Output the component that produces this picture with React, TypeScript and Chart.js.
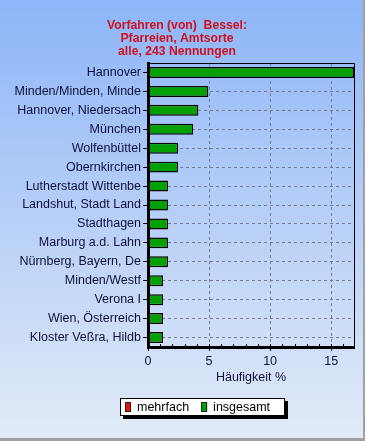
import React, { useEffect, useRef } from 'react';
import { Chart, registerables } from 'chart.js';

Chart.register(...registerables);

const titleLines = ['Vorfahren (von)  Bessel:', 'Pfarreien, Amtsorte', 'alle, 243 Nennungen'];
const categories = [
  'Hannover',
  'Minden/Minden, Minde',
  'Hannover, Niedersach',
  'München',
  'Wolfenbüttel',
  'Obernkirchen',
  'Lutherstadt Wittenbe',
  'Landshut, Stadt Land',
  'Stadthagen',
  'Marburg a.d. Lahn',
  'Nürnberg, Bayern, De',
  'Minden/Westf',
  'Verona I',
  'Wien, Österreich',
  'Kloster Veßra, Hildb',
];
const insgesamtValues = [16.87, 4.94, 4.12, 3.7, 2.47, 2.47, 1.65, 1.65, 1.65, 1.65, 1.65, 1.23, 1.23, 1.23, 1.23];
const mehrfachValues = [0, 0, 0, 0, 0, 0, 0, 0, 0, 0, 0, 0, 0, 0, 0];
const xTickStep = 5;
const xAxisTitle = 'Häufigkeit %';

const FONT = '"Liberation Sans", Arial, sans-serif';
const TEXT = '#10103a';

const bgPlugin = {
  id: 'bg',
  beforeDraw(chart: any) {
    const { ctx, width, height } = chart;
    ctx.save();
    const g = ctx.createLinearGradient(0, 0, 0, height);
    g.addColorStop(0, '#8db5f8');
    g.addColorStop(1, '#e2ebf7');
    ctx.fillStyle = g;
    ctx.fillRect(0, 0, width, height);
    ctx.fillStyle = '#a0a0a0';
    ctx.fillRect(width - 2, 0, 2, height);
    ctx.fillRect(0, height - 3, width, 3);
    ctx.restore();
  },
};

const framePlugin = {
  id: 'frame',
  afterDraw(chart: any) {
    const { ctx, chartArea } = chart;
    const { left, right, top, bottom } = chartArea;
    ctx.save();
    ctx.strokeStyle = '#000';
    ctx.lineWidth = 1;
    ctx.beginPath();
    ctx.moveTo(left, top + 0.5);
    ctx.lineTo(Math.round(right) + 0.5, top + 0.5);
    ctx.lineTo(Math.round(right) + 0.5, bottom);
    ctx.stroke();
    // minor ticks on bottom axis
    const xs = chart.scales.x;
    ctx.beginPath();
    for (let v = 1; v <= Math.floor(xs.max); v++) {
      const px = Math.round(xs.getPixelForValue(v)) + 0.5;
      ctx.moveTo(px, bottom);
      ctx.lineTo(px, bottom - 3);
    }
    ctx.stroke();
    ctx.restore();
  },
};

const legendPlugin = {
  id: 'boxLegend',
  afterDraw(chart: any) {
    const ctx = chart.ctx;
    ctx.save();
    ctx.font = `12.5px ${FONT}`;
    const items = chart.data.datasets.map((d: any) => ({ label: d.label, color: d.backgroundColor }));
    const sw = 6, sh = 10, gap = 6, itemGap = 12, padL = 5, padR = 15;
    let w = padL;
    items.forEach((it: any, i: number) => {
      w += sw + gap + ctx.measureText(it.label).width + (i < items.length - 1 ? itemGap : 0);
    });
    w += padR;
    w = Math.round(w);
    const h = 18;
    const x = Math.round(202 - w / 2);
    const y = chart.height - 43;
    ctx.fillStyle = '#000';
    ctx.fillRect(x + 3, y + 3, w, h);
    ctx.fillStyle = '#fff';
    ctx.fillRect(x, y, w, h);
    ctx.strokeStyle = '#000';
    ctx.lineWidth = 1;
    ctx.strokeRect(x + 0.5, y + 0.5, w - 1, h - 1);
    let px = x + padL;
    const my = y + h / 2;
    items.forEach((it: any) => {
      ctx.fillStyle = it.color;
      ctx.fillRect(px, my - 5, sw, sh);
      ctx.strokeStyle = '#202020';
      ctx.strokeRect(px + 0.5, my - 5 + 0.5, sw - 1, sh - 1);
      px += sw + gap;
      ctx.fillStyle = '#000';
      ctx.textBaseline = 'middle';
      ctx.textAlign = 'left';
      ctx.fillText(it.label, px, my + 1);
      px += ctx.measureText(it.label).width + itemGap;
    });
    ctx.restore();
  },
};

export default function App() {
  const ref = useRef<HTMLCanvasElement>(null);
  useEffect(() => {
    document.body.style.margin = '0';
    const chart = new Chart(ref.current as HTMLCanvasElement, {
      type: 'bar',
      data: {
        labels: categories,
        datasets: [
          {
            label: 'mehrfach',
            data: mehrfachValues,
            backgroundColor: '#ee1111',
            borderColor: '#000',
            borderWidth: 0,
            barPercentage: 0.58,
            categoryPercentage: 1,
            grouped: false,
          },
          {
            label: 'insgesamt',
            data: insgesamtValues,
            backgroundColor: '#00a000',
            borderColor: '#000',
            borderWidth: 1.5,
            borderSkipped: false,
            barPercentage: 0.58,
            categoryPercentage: 1,
            grouped: false,
          },
        ],
      } as any,
      options: {
        indexAxis: 'y',
        responsive: false,
        animation: false,
        events: [],
        layout: { padding: { left: 0, right: 11, top: 0, bottom: 54 } },
        plugins: {
          legend: { display: false },
          tooltip: { enabled: false },
          title: {
            display: true,
            text: titleLines,
            color: '#d0101c',
            font: { family: FONT, size: 12.2, weight: 'bold', lineHeight: 13 / 12.2 },
            padding: { top: 19, bottom: 5 },
          },
        },
        scales: {
          x: {
            type: 'linear',
            min: 0,
            max: Math.max(...insgesamtValues),
            afterFit: (s: any) => {
              s.height = 40;
            },
            ticks: {
              stepSize: xTickStep,
              includeBounds: false,
              color: TEXT,
              font: { family: FONT, size: 12.5 },
              padding: 3,
              maxRotation: 0,
            },
            grid: {
              color: '#7a7a8a',
              lineWidth: 1,
              tickLength: 4,
              tickColor: '#000',
              tickBorderDash: [],
            },
            border: { display: true, color: '#000', width: 3, dash: [3, 3] },
            title: {
              display: true,
              text: xAxisTitle,
              color: TEXT,
              font: { family: FONT, size: 12.5 },
              padding: { top: 0, bottom: 2 },
            },
          },
          y: {
            type: 'category',
            afterFit: (s: any) => {
              s.width = 148;
            },
            ticks: {
              autoSkip: false,
              color: TEXT,
              font: { family: FONT, size: 12.5 },
              padding: 2,
            },
            grid: {
              offset: false,
              color: '#7a7a8a',
              lineWidth: 1,
              tickLength: 5,
              tickColor: '#000',
              tickBorderDash: [],
            },
            border: { display: true, color: '#000', width: 3, dash: [3, 3] },
          },
        },
      } as any,
      plugins: [bgPlugin, framePlugin, legendPlugin],
    });
    return () => chart.destroy();
  }, []);
  return (
    <div style={{ position: 'absolute', left: 0, top: 0, width: 365, height: 441 }}>
      <canvas ref={ref} width={365} height={441} style={{ display: 'block' }} />
    </div>
  );
}
